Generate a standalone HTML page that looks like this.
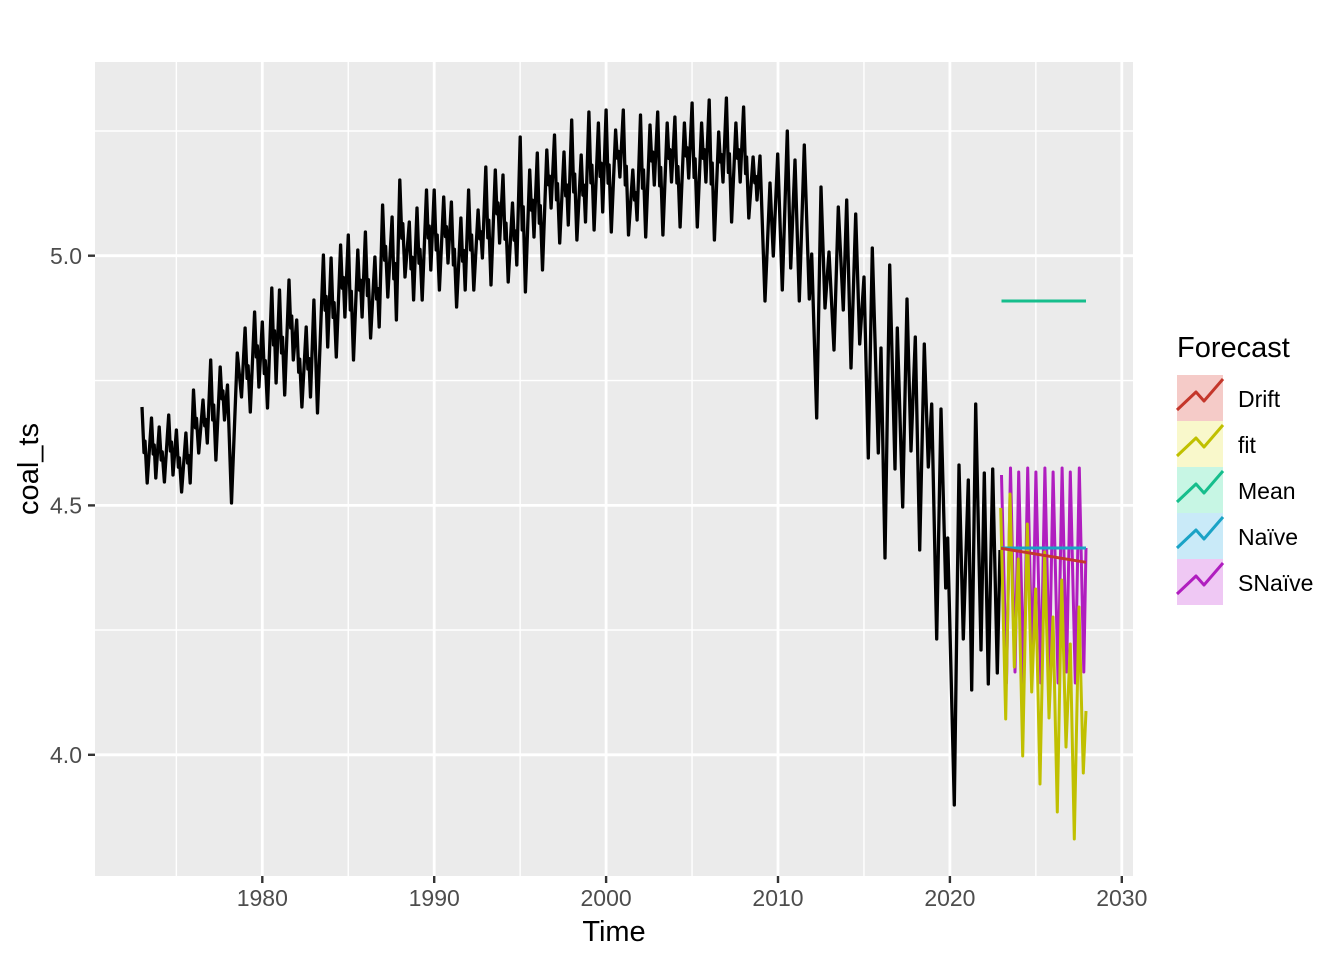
<!DOCTYPE html>
<html>
<head>
<meta charset="utf-8">
<style>
html,body{margin:0;padding:0;background:#fff;}
svg{display:block;}
text{font-family:"Liberation Sans",Arial,sans-serif;}
</style>
</head>
<body>
<svg width="1344" height="960" viewBox="0 0 1344 960" xmlns="http://www.w3.org/2000/svg">
<rect x="0" y="0" width="1344" height="960" fill="#fff"/>
<!-- panel -->
<rect x="95" y="62" width="1038" height="814" fill="#EBEBEB"/>
<g stroke="#fff" stroke-width="1.4" fill="none">
<line x1="95" y1="131" x2="1133" y2="131"/>
<line x1="95" y1="380.6" x2="1133" y2="380.6"/>
<line x1="95" y1="630" x2="1133" y2="630"/>
<line x1="176.35" y1="62" x2="176.35" y2="876"/>
<line x1="348.25" y1="62" x2="348.25" y2="876"/>
<line x1="520.15" y1="62" x2="520.15" y2="876"/>
<line x1="692.05" y1="62" x2="692.05" y2="876"/>
<line x1="863.95" y1="62" x2="863.95" y2="876"/>
<line x1="1035.85" y1="62" x2="1035.85" y2="876"/>
</g>
<g stroke="#fff" stroke-width="2.8" fill="none">
<line x1="95" y1="255.7" x2="1133" y2="255.7"/>
<line x1="95" y1="505.4" x2="1133" y2="505.4"/>
<line x1="95" y1="754.8" x2="1133" y2="754.8"/>
<line x1="262.3" y1="62" x2="262.3" y2="876"/>
<line x1="434.2" y1="62" x2="434.2" y2="876"/>
<line x1="606.1" y1="62" x2="606.1" y2="876"/>
<line x1="778" y1="62" x2="778" y2="876"/>
<line x1="949.9" y1="62" x2="949.9" y2="876"/>
<line x1="1121.8" y1="62" x2="1121.8" y2="876"/>
</g>

<!-- main series -->
<path fill="none" stroke="#000" stroke-width="3.3" stroke-linejoin="round" d="M142,407 L144,452.6 L145,441.2 L147.2,483 L151.5,418 L153.2,454 L154.2,445 L155.8,478 L159.2,427 L161.2,460 L162.2,451.8 L164.4,482 L168.7,415 L170.4,451 L171.4,442 L173,475 L176.4,430 L178.4,467.2 L179.4,457.9 L181.6,492 L185.9,433 L187.6,463 L188.6,455.5 L190.2,483 L193.5,390 L195.5,427.8 L196.5,418.4 L198.7,453 L203,400 L204.7,425.8 L205.7,419.4 L207.3,443 L210.7,360 L212.7,420 L213.7,405 L215.9,460 L220.2,367 L221.9,398.8 L222.9,390.9 L224.5,420 L227.5,385 L231.5,503 L237.3,353 L241.5,397 L245.1,328 L247.1,378.4 L248.1,365.8 L250.3,412 L254.6,312 L256.3,357 L257.3,345.8 L258.9,387 L262.3,322 L264.3,373.6 L265.3,360.7 L267.5,408 L271.8,288 L273.5,345 L274.5,330.8 L276.1,383 L279.5,290 L281.5,353 L282.5,337.3 L284.7,395 L289,280 L290.7,328 L291.7,316 L293.3,360 L296.7,320 L298.7,372.2 L299.7,359.2 L301.9,407 L306.2,327 L307.9,369 L308.9,358.5 L310.5,397 L313.9,300 L317.5,413 L323.4,255 L325.1,310.2 L326.1,296.4 L327.7,347 L331.1,258 L333.1,317.4 L334.1,302.6 L336.3,357 L340.6,245 L342.3,288.2 L343.3,277.4 L344.9,317 L348.3,235 L350.3,310 L351.3,291.3 L353.5,360 L357.8,250 L359.5,290.2 L360.5,280.2 L362.1,317 L365.4,232 L367.4,295.6 L368.4,279.7 L370.6,338 L374.9,257 L376.6,299 L377.6,288.5 L379.2,327 L382.6,205 L384.6,260.2 L385.6,246.4 L387.8,297 L392.1,217 L393.8,278.8 L394.8,263.4 L396.4,320 L399.8,180 L401.8,238.2 L402.8,223.7 L405,277 L409.3,222 L411,268.8 L412,257.1 L413.6,300 L417,208 L419,263.2 L420,249.4 L422.2,300 L426.5,190 L428.2,238 L429.2,226 L430.8,270 L434.2,190 L436.2,250 L437.2,235 L439.4,290 L443.7,197 L445.4,236.6 L446.4,226.7 L448,263 L451.4,202 L453.4,265 L454.4,249.3 L456.6,307 L460.9,218 L462.6,261.2 L463.6,250.4 L465.2,290 L468.6,190 L470.6,250 L471.6,235 L473.8,290 L478.1,210 L479.8,238.8 L480.8,231.6 L482.4,258 L485.8,167 L487.8,237.8 L488.8,220.1 L491,285 L495.3,170 L497,213.8 L498,202.9 L499.6,243 L503,175 L505,239.2 L506,223.2 L508.2,282 L512.5,203 L514.2,240.2 L515.2,230.9 L516.8,265 L520.2,137 L522.2,230 L523.2,206.8 L525.4,292 L529.7,170 L531.4,210.2 L532.4,200.2 L534,237 L537.3,153 L539.3,223.2 L540.3,205.7 L542.5,270 L546.8,150 L548.5,184.8 L549.5,176.1 L551.1,208 L554.5,135 L556.5,199.8 L557.5,183.6 L559.7,243 L564,152 L565.7,195.8 L566.7,184.9 L568.3,225 L571.7,120 L573.7,192 L574.7,174 L576.9,240 L581.2,155 L582.9,195.2 L583.9,185.2 L585.5,222 L588.9,112 L590.9,182.8 L591.9,165.1 L594.1,230 L598.4,123 L600.1,176.4 L601.1,163.1 L602.7,212 L606.1,110 L608.1,183.2 L609.1,164.9 L611.3,232 L615.6,130 L617.3,158.2 L618.3,151.2 L619.9,177 L623.3,110 L625.3,185 L626.3,166.3 L628.5,235 L632.8,170 L634.5,200 L635.5,192.5 L637.1,220 L640.5,115 L642.5,188.2 L643.5,169.9 L645.7,237 L650,125 L651.7,161 L652.7,152 L654.3,185 L657.7,112 L659.7,185.8 L660.7,167.4 L662.9,235 L667.2,123 L668.9,158.4 L669.9,149.6 L671.5,182 L674.9,117 L676.9,183 L677.9,166.5 L680.1,227 L684.4,123 L686.1,156 L687.1,147.8 L688.7,178 L692.1,103 L694.1,177.4 L695.1,158.8 L697.3,227 L701.6,123 L703.3,158.4 L704.3,149.6 L705.9,182 L709.2,100 L711.2,184 L712.2,163 L714.4,240 L718.7,132 L720.4,162 L721.4,154.5 L723,182 L726.4,98 L728.4,172.4 L729.4,153.8 L731.6,222 L735.9,123 L737.6,158.4 L738.6,149.6 L740.2,182 L743.6,107 L745.6,173.6 L746.6,157 L748.8,218 L753.1,157 L754.8,182.8 L755.8,176.4 L757,200 L760,156 L765,301 L770,183 L773.3,256 L777.7,154 L782.3,290 L787.3,131 L790.7,268 L795,160 L799.3,301 L804.3,145 L809.3,299 L811.7,254 L816.7,418 L821,187 L825,308 L829,252 L834,350 L838.3,207 L843.3,310 L846.7,200 L851,368 L855.7,214 L859.7,344 L864,277 L868.3,458 L872.3,248 L878.3,453 L881,348 L885,558 L889.7,265 L895,469 L897.3,328 L902.7,507 L907,299 L911,451 L915.3,337 L919.7,550 L924.3,344 L928.3,467 L931.7,404 L936.7,639 L941,409 L945.7,588 L947.7,538 L954.3,805 L959,465 L963.3,639 L968.3,480 L971.7,690 L975.7,404 L981,650 L984.3,473 L988.3,684 L992.7,469 L997.3,673 L1000,550"/>

<!-- SNaive -->
<path fill="none" stroke="#B01EBF" stroke-width="3" stroke-linejoin="round" d="M1001.5,475 L1006.5,683 L1010.5,468 L1015,672 L1017.3,548 L1018.7,472 L1023.7,683 L1027.7,468 L1032.2,672 L1034.5,548 L1035.9,472 L1040.9,683 L1044.9,468 L1049.4,672 L1051.7,548 L1053.1,472 L1058.1,683 L1062.1,468 L1066.6,672 L1068.9,548 L1070.3,472 L1075.3,683 L1079.3,468 L1083.8,672 L1086,548"/>
<!-- fit -->
<path fill="none" stroke="#C0C000" stroke-width="3" stroke-linejoin="round" d="M1000.7,508 L1005.7,719 L1010,494 L1014.3,667 L1018.3,559 L1022.7,756 L1027.3,524 L1031.7,692 L1035.7,589 L1040,784 L1044.7,552 L1049,718 L1053,617 L1057.3,812 L1061.7,580 L1066,747 L1070.3,644 L1074.3,839 L1079,607 L1083.3,773 L1086,711"/>
<!-- Naive -->
<line x1="1001" y1="548" x2="1086" y2="548" stroke="#1AA3C6" stroke-width="3"/>
<!-- Drift -->
<line x1="1001" y1="548.3" x2="1086" y2="562.3" stroke="#C4372B" stroke-width="3"/>
<!-- Mean -->
<line x1="1001.5" y1="301" x2="1086" y2="301" stroke="#16BE8C" stroke-width="3"/>

<!-- axes ticks -->
<g stroke="#333" stroke-width="2.4">
<line x1="88" y1="255.7" x2="95" y2="255.7"/>
<line x1="88" y1="505.4" x2="95" y2="505.4"/>
<line x1="88" y1="754.8" x2="95" y2="754.8"/>
<line x1="262.3" y1="876" x2="262.3" y2="883"/>
<line x1="434.2" y1="876" x2="434.2" y2="883"/>
<line x1="606.1" y1="876" x2="606.1" y2="883"/>
<line x1="778" y1="876" x2="778" y2="883"/>
<line x1="949.9" y1="876" x2="949.9" y2="883"/>
<line x1="1121.8" y1="876" x2="1121.8" y2="883"/>
</g>
<g fill="#4D4D4D" font-size="23" text-anchor="end">
<text x="82" y="264">5.0</text>
<text x="82" y="513.7">4.5</text>
<text x="82" y="763">4.0</text>
</g>
<g fill="#4D4D4D" font-size="23" text-anchor="middle">
<text x="262.3" y="906">1980</text>
<text x="434.2" y="906">1990</text>
<text x="606.1" y="906">2000</text>
<text x="778" y="906">2010</text>
<text x="949.9" y="906">2020</text>
<text x="1121.8" y="906">2030</text>
</g>
<text x="614" y="941" font-size="29" text-anchor="middle" fill="#000">Time</text>
<text x="0" y="0" font-size="29" text-anchor="middle" fill="#000" transform="translate(38,469) rotate(-90)">coal_ts</text>

<!-- legend -->
<text x="1177" y="357" font-size="29" fill="#000">Forecast</text>
<rect x="1177" y="375" width="46" height="46" fill="#F5CBC8"/>
<rect x="1177" y="421" width="46" height="46" fill="#F9F8CB"/>
<rect x="1177" y="467" width="46" height="46" fill="#C7F6E4"/>
<rect x="1177" y="513" width="46" height="46" fill="#C9EAF8"/>
<rect x="1177" y="559" width="46" height="46" fill="#EFC8F4"/>
<g fill="none" stroke-width="3" stroke-linejoin="round">
<polyline points="1177,410 1196,392 1204,401 1223,379" stroke="#C4372B"/>
<polyline points="1177,456 1196,438 1204,447 1223,425" stroke="#C0C000"/>
<polyline points="1177,502 1196,484 1204,493 1223,471" stroke="#16BE8C"/>
<polyline points="1177,548 1196,530 1204,539 1223,517" stroke="#1AA3C6"/>
<polyline points="1177,594 1196,576 1204,585 1223,563" stroke="#B01EBF"/>
</g>
<g fill="#000" font-size="23">
<text x="1238" y="407">Drift</text>
<text x="1238" y="453">fit</text>
<text x="1238" y="499">Mean</text>
<text x="1238" y="545">Naïve</text>
<text x="1238" y="591">SNaïve</text>
</g>
</svg>
</body>
</html>
